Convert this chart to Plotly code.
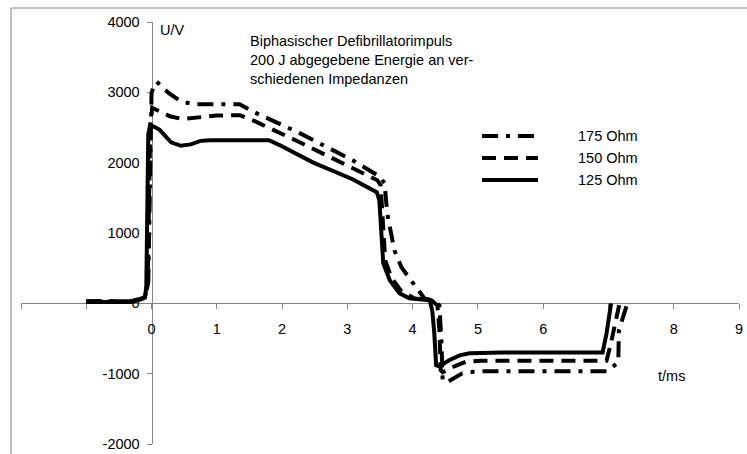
import plotly.graph_objects as go

# Biphasic defibrillator pulse, 200 J delivered into three impedances
# t in ms, U in V
t_175 = [-1.00, -0.30, -0.15, -0.10, -0.05, 0.00, 0.03, 0.08, 0.25, 0.45, 0.65, 1.35, 1.58,
         2.27, 3.08, 3.49, 3.57, 3.61, 3.66, 3.72, 3.83, 4.01, 4.18, 4.30, 4.41, 4.44, 4.46,
         4.52, 4.76, 4.99, 6.98, 7.15, 7.16, 7.29]
u_175 = [30, 30, 70, 100, 300, 2990, 3080, 3150, 3000, 2870, 2830, 2830, 2715,
         2420, 2035, 1805, 1710, 1280, 1040, 755, 510, 285, 70, 43, -30, -525, -1095,
         -1125, -995, -965, -965, -840, -385, 0]

t_150 = [-1.00, -0.30, -0.15, -0.10, -0.06, -0.02, 0.01, 0.09, 0.28, 0.47, 0.70, 1.00, 1.35,
         1.58, 2.27, 3.08, 3.46, 3.51, 3.54, 3.58, 3.68, 3.83, 4.03, 4.29, 4.38, 4.41, 4.43,
         4.46, 4.64, 4.82, 5.05, 6.97, 7.03, 7.08, 7.17]
u_150 = [30, 30, 70, 100, 250, 2500, 2780, 2745, 2660, 2620, 2645, 2670, 2675,
         2590, 2290, 1920, 1750, 1680, 1250, 610, 355, 170, 70, 40, -30, -385, -950,
         -980, -895, -830, -815, -815, -600, -385, 0]

t_125 = [-1.00, -0.50, -0.30, -0.15, -0.10, -0.08, -0.05, -0.02, 0.12, 0.30, 0.45, 0.60, 0.75,
         0.90, 1.80, 1.96, 2.47, 3.08, 3.45, 3.49, 3.50, 3.55, 3.65, 3.80, 3.95, 4.26, 4.30,
         4.33, 4.36, 4.41, 4.56, 4.72, 4.87, 5.38, 6.91, 6.97, 7.04]
u_125 = [20, 10, 20, 60, 80, 250, 2400, 2540, 2470, 2290, 2240, 2260, 2310,
         2320, 2320, 2250, 2005, 1765, 1580, 1465, 1294, 569, 327, 142, 71, 43, -100,
         -400, -880, -895, -810, -740, -710, -700, -700, -430, 0]

series_names = ["175 Ohm", "150 Ohm", "125 Ohm"]
series_dash = ["16px,8px,4px,8px", "14px,8px", "solid"]

x_ticks = list(range(-2, 10))
x_ticktext = ["", "", "0", "1", "2", "3", "4", "5", "6", "", "8", "9"]
y_ticks = [-2000, -1000, 0, 1000, 2000, 3000, 4000]

X_RANGE = [-2, 9]
Y_RANGE = [-2000, 4000]

W, H = 747, 454
ML, MR, MT, MB = 21, 8, 22, 10
PW, PH = W - ML - MR, H - MT - MB

FONT = "Liberation Sans, Arial, sans-serif"
FS = 14.5
AXIS_GREY = "#868686"


def px(x):
    return (x - ML) / PW


def py(y):
    return (H - MB - y) / PH


fig = go.Figure()
for name, dash, t, u in zip(series_names, series_dash,
                            [t_175, t_150, t_125], [u_175, u_150, u_125]):
    fig.add_trace(go.Scatter(x=t, y=u, mode="lines", name=name, showlegend=False,
                             line=dict(color="black", width=4, dash=dash)))

axis_common = dict(showgrid=False, zeroline=False, showline=True, linecolor=AXIS_GREY,
                   linewidth=1, ticks="outside", ticklen=5, tickcolor=AXIS_GREY,
                   tickfont=dict(family=FONT, size=FS, color="black"),
                   layer="below traces", anchor="free", automargin=False)

fig.update_layout(
    width=W, height=H,
    margin=dict(l=ML, r=MR, t=MT, b=MB, pad=0, autoexpand=False),
    paper_bgcolor="white", plot_bgcolor="white",
    font=dict(family=FONT, size=FS, color="black"),
    xaxis=dict(range=X_RANGE, tickmode="array", tickvals=x_ticks, ticktext=x_ticktext,
               ticklabelstandoff=7,
               position=(0 - Y_RANGE[0]) / (Y_RANGE[1] - Y_RANGE[0]), **axis_common),
    yaxis=dict(range=Y_RANGE, tickmode="array", tickvals=y_ticks,
               ticktext=[str(v) for v in y_ticks], ticklabelstandoff=4,
               position=(0 - X_RANGE[0]) / (X_RANGE[1] - X_RANGE[0]), **axis_common),
)

# frame around the chart
fig.add_shape(type="rect", xref="paper", yref="paper",
              x0=px(11), y0=py(470), x1=px(770), y1=py(8),
              line=dict(color="#808080", width=1), fillcolor="rgba(0,0,0,0)", layer="below")

# legend drawn by hand: sample line + label
legend_y = [136, 158, 180]
for name, dash, ly in zip(series_names, series_dash, legend_y):
    fig.add_shape(type="line", xref="paper", yref="paper",
                  x0=px(482), x1=px(538), y0=py(ly), y1=py(ly),
                  line=dict(color="black", width=4, dash=dash))
    fig.add_annotation(xref="paper", yref="paper", x=px(576), y=py(ly), text=name,
                       showarrow=False, xanchor="left", yanchor="middle",
                       font=dict(family=FONT, size=FS, color="black"))

fig.add_annotation(xref="paper", yref="paper", x=px(158), y=py(30), text="U/V",
                   showarrow=False, xanchor="left", yanchor="middle")
fig.add_annotation(xref="paper", yref="paper", x=px(656), y=py(376), text="t/ms",
                   showarrow=False, xanchor="left", yanchor="middle")
fig.add_annotation(xref="paper", yref="paper", x=px(248), y=py(31),
                   text="Biphasischer Defibrillatorimpuls<br>200 J abgegebene Energie an ver-"
                        "<br>schiedenen Impedanzen",
                   showarrow=False, xanchor="left", yanchor="top", align="left")

fig.write_html("out.html")
